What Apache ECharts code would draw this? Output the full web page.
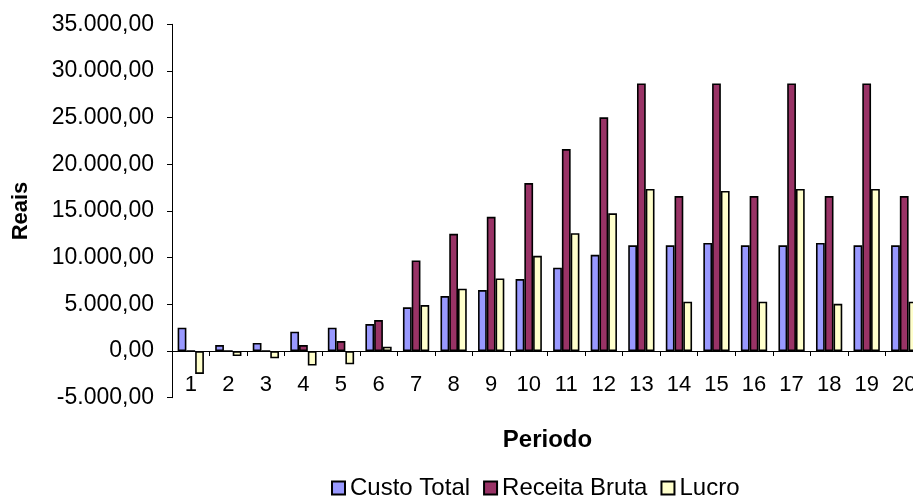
<!DOCTYPE html>
<html>
<head>
<meta charset="utf-8">
<script src="https://cdn.jsdelivr.net/npm/echarts@6/dist/echarts.min.js"></script>
<style>
  html, body { margin: 0; padding: 0; background: #ffffff; }
  #chart { width: 913px; height: 498px; }
</style>
</head>
<body>
<div id="chart"></div>
<script>
// Periods and yearly figures (R$)
const periodos = ['1','2','3','4','5','6','7','8','9','10','11','12','13','14','15','16','17','18','19','20'];
const custoTotal = [2500, 640, 860, 2070, 2500, 2890, 4680, 5890, 6530, 7710, 8920, 10310, 11320, 11320, 11570, 11320, 11320, 11570, 11320, 11320];
const receitaBruta = [0, 0, 0, 640, 1070, 3320, 9710, 12560, 14380, 17990, 21630, 25030, 28670, 16600, 28670, 16600, 28670, 16600, 28670, 16600];
const lucro = [-2450, -540, -780, -1550, -1420, 460, 4920, 6670, 7780, 10200, 12620, 14750, 17370, 5280, 17150, 5280, 17370, 5060, 17370, 5280];

const yMin = -5000, yMax = 35000, yStep = 5000;

function formatReais(v) {
  const neg = v < 0;
  const s = Math.abs(Math.round(v)).toString().replace(/\B(?=(\d{3})+(?!\d))/g, '.');
  return (neg ? '-' : '') + s + ',00';
}

const FONT = 'Liberation Sans, Arial, sans-serif';
const chart = echarts.init(document.getElementById('chart'), null, { renderer: 'canvas' });

const barBorder = { borderColor: '#000000', borderWidth: 1.6 };

chart.setOption({
  backgroundColor: '#ffffff',
  animation: false,
  textStyle: { fontFamily: FONT },
  grid: {
    left: 172, top: 24.3, width: 751, height: 373.4,
    containLabel: false,
    outerBoundsMode: 'none'
  },
  legend: {
    left: 326,
    top: 471,
    itemWidth: 13,
    itemHeight: 13,
    itemGap: 13,
    icon: 'rect',
    textStyle: { fontFamily: FONT, fontSize: 24, color: '#000000' },
    data: ['Custo Total', 'Receita Bruta', 'Lucro']
  },
  xAxis: {
    type: 'category',
    data: periodos,
    name: 'Periodo',
    nameLocation: 'middle',
    nameGap: 31,
    nameTextStyle: { fontFamily: FONT, fontSize: 24, fontWeight: 'bold', color: '#000000' },
    axisLine: { onZero: true, lineStyle: { color: '#000000', width: 1 } },
    axisTick: { show: true, alignWithLabel: false, inside: false, length: 5, lineStyle: { color: '#000000' } },
    axisLabel: { interval: 0, margin: -24, fontFamily: FONT, fontSize: 22, color: '#000000' },
    splitLine: { show: false }
  },
  yAxis: {
    type: 'value',
    min: yMin,
    max: yMax,
    interval: yStep,
    name: 'Reais',
    nameLocation: 'middle',
    nameRotate: 90,
    nameGap: 140,
    nameTextStyle: { fontFamily: FONT, fontSize: 22, fontWeight: 'bold', color: '#000000' },
    axisLine: { show: true, lineStyle: { color: '#000000', width: 1 } },
    axisTick: { show: true, length: 5, lineStyle: { color: '#000000' } },
    axisLabel: { margin: 18, fontFamily: FONT, fontSize: 23, color: '#000000', formatter: formatReais },
    splitLine: { show: false }
  },
  series: [
    {
      name: 'Custo Total', type: 'bar', data: custoTotal,
      barGap: '0%', barCategoryGap: '30%',
      itemStyle: Object.assign({ color: '#9999FF' }, barBorder)
    },
    {
      name: 'Receita Bruta', type: 'bar', data: receitaBruta,
      barGap: '0%', barCategoryGap: '30%',
      itemStyle: Object.assign({ color: '#993366' }, barBorder)
    },
    {
      name: 'Lucro', type: 'bar', data: lucro,
      barGap: '0%', barCategoryGap: '30%',
      itemStyle: Object.assign({ color: '#FFFFCC' }, barBorder)
    }
  ]
});
</script>
</body>
</html>
